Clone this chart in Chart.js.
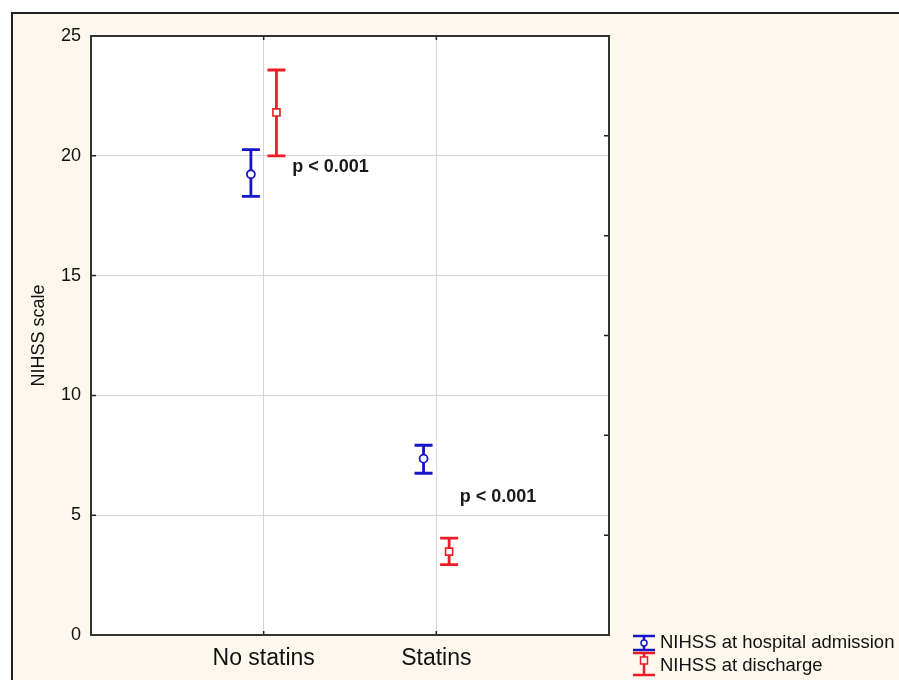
<!DOCTYPE html>
<html>
<head>
<meta charset="utf-8">
<script src="https://cdn.jsdelivr.net/npm/chart.js@4.4.1/dist/chart.umd.min.js"></script>
<style>
  html, body { margin: 0; padding: 0; background: #fff; overflow: hidden; }
  #frame { position: absolute; left: 11px; top: 12px; width: 900px; height: 680px;
           border-left: 2px solid #222; border-top: 2px solid #222; background: #fcf8ee; }
  #c { position: absolute; left: 0; top: 0; }
</style>
</head>
<body>
<div id="frame"></div>
<canvas id="c" width="899" height="680"></canvas>
<script>
// NIHSS score, means with error bars
const groups        = ['No statins', 'Statins'];
const seriesNames   = ['NIHSS at hospital admission', 'NIHSS at discharge'];
const admissionMean = [19.23, 7.36];
const admissionLow  = [18.31, 6.75];
const admissionHigh = [20.26, 7.92];
const dischargeMean = [21.81, 3.48];
const dischargeLow  = [20.0, 2.94];
const dischargeHigh = [23.58, 4.04];
const yTicks        = [0, 5, 10, 15, 20, 25];
const pTexts        = ['p < 0.001', 'p < 0.001'];

const FONT = "Arial, 'Liberation Sans', sans-serif";
const BLUE = '#1616c8';
const RED  = '#ec1c24';
const OFFSET = 0.074;   // horizontal dodge of the two series, in x units

// where the p labels sit (left edge, vertical centre), in data units
const pAnchors = [{ x: 1.166, y: 19.55 }, { x: 2.135, y: 5.75 }];

const errorBars = {
  id: 'errorBars',
  beforeDraw(chart) {
    const { ctx, chartArea: a } = chart;
    ctx.save();
    ctx.fillStyle = '#fff';
    ctx.fillRect(a.left, a.top, a.right - a.left, a.bottom - a.top);
    ctx.restore();
  },
  beforeDatasetsDraw(chart) {
    const { ctx, scales: { x, y } } = chart;
    ctx.save();
    chart.data.datasets.forEach(ds => {
      ctx.strokeStyle = ds.borderColor;
      ctx.lineWidth = 2.8;
      ds.data.forEach((p, i) => {
        const px = x.getPixelForValue(p.x);
        const lo = y.getPixelForValue(ds.low[i]);
        const hi = y.getPixelForValue(ds.high[i]);
        ctx.beginPath();
        ctx.moveTo(px, lo); ctx.lineTo(px, hi);
        ctx.moveTo(px - 9, lo); ctx.lineTo(px + 9, lo);
        ctx.moveTo(px - 9, hi); ctx.lineTo(px + 9, hi);
        ctx.stroke();
      });
    });
    ctx.restore();
  },
  afterDraw(chart) {
    const { ctx, chartArea: a, scales: { x, y, y2 } } = chart;
    ctx.save();

    // inward tick marks
    ctx.strokeStyle = '#222';
    ctx.lineWidth = 1.5;
    ctx.beginPath();
    y.ticks.forEach(t => {
      const py = y.getPixelForValue(t.value);
      ctx.moveTo(a.left, py); ctx.lineTo(a.left + 5, py);
    });
    y2.ticks.forEach(t => {
      if (t.value <= y2.min || t.value >= y2.max) return;
      const py = y2.getPixelForValue(t.value);
      ctx.moveTo(a.right - 5, py); ctx.lineTo(a.right, py);
    });
    x.ticks.forEach(t => {
      const px = x.getPixelForValue(t.value);
      ctx.moveTo(px, a.bottom - 4); ctx.lineTo(px, a.bottom);
      ctx.moveTo(px, a.top); ctx.lineTo(px, a.top + 4);
    });
    ctx.stroke();

    // plot frame
    ctx.strokeStyle = '#333';
    ctx.lineWidth = 2;
    ctx.strokeRect(a.left, a.top, a.right - a.left, a.bottom - a.top);

    // p values
    ctx.fillStyle = '#1a1a1a';
    ctx.font = `bold 18px ${FONT}`;
    ctx.textAlign = 'left';
    ctx.textBaseline = 'middle';
    pTexts.forEach((t, i) => {
      ctx.fillText(t, x.getPixelForValue(pAnchors[i].x), y.getPixelForValue(pAnchors[i].y));
    });

    // legend
    const lx = 644;
    ctx.lineWidth = 2.5;
    ctx.strokeStyle = BLUE;
    ctx.beginPath();
    ctx.moveTo(lx - 11, 636); ctx.lineTo(lx + 11, 636);
    ctx.moveTo(lx, 636); ctx.lineTo(lx, 650);
    ctx.moveTo(lx - 11, 650); ctx.lineTo(lx + 11, 650);
    ctx.stroke();
    ctx.lineWidth = 1.5;
    ctx.fillStyle = '#fff';
    ctx.beginPath(); ctx.arc(lx, 643, 3, 0, Math.PI * 2); ctx.fill(); ctx.stroke();

    ctx.lineWidth = 2.5;
    ctx.strokeStyle = RED;
    ctx.beginPath();
    ctx.moveTo(lx - 11, 653); ctx.lineTo(lx + 11, 653);
    ctx.moveTo(lx, 653); ctx.lineTo(lx, 675);
    ctx.moveTo(lx - 11, 675); ctx.lineTo(lx + 11, 675);
    ctx.stroke();
    ctx.lineWidth = 1.5;
    ctx.fillRect(lx - 3.5, 657, 7, 7); ctx.strokeRect(lx - 3.5, 657, 7, 7);

    ctx.fillStyle = '#111';
    ctx.font = `18.5px ${FONT}`;
    ctx.textBaseline = 'alphabetic';
    ctx.fillText(seriesNames[0], 660, 648);
    ctx.fillText(seriesNames[1], 660, 671);
    ctx.restore();
  }
};

new Chart(document.getElementById('c'), {
  type: 'scatter',
  data: {
    datasets: [
      {
        label: seriesNames[0],
        data: admissionMean.map((v, i) => ({ x: i + 1 - OFFSET, y: v })),
        low: admissionLow, high: admissionHigh,
        borderColor: BLUE, backgroundColor: '#fff',
        pointStyle: 'circle', pointRadius: 4, pointBorderWidth: 1.8,
      },
      {
        label: seriesNames[1],
        data: dischargeMean.map((v, i) => ({ x: i + 1 + OFFSET, y: v })),
        low: dischargeLow, high: dischargeHigh,
        borderColor: RED, backgroundColor: '#fff',
        pointStyle: 'rect', pointRadius: 5, pointBorderWidth: 1.6,
      },
    ],
  },
  options: {
    responsive: false,
    animation: false,
    layout: { padding: { left: 0, top: 36, right: 290, bottom: 0 } },
    plugins: { legend: { display: false }, tooltip: { enabled: false } },
    scales: {
      x: {
        type: 'linear', min: 0, max: 3,
        afterBuildTicks: s => { s.ticks = groups.map((g, i) => ({ value: i + 1 })); },
        ticks: { callback: v => groups[v - 1], font: { size: 23, family: FONT }, color: '#111', padding: 10 },
        grid: { color: '#d6d6d6', drawTicks: false },
        border: { display: false },
        afterFit: s => { s.height = 45; },
      },
      y: {
        min: 0, max: 25,
        afterBuildTicks: s => { s.ticks = yTicks.map(v => ({ value: v })); },
        ticks: { font: { size: 18, family: FONT }, color: '#111', padding: 10 },
        grid: { color: '#d6d6d6', drawTicks: false },
        border: { display: false },
        title: { display: true, text: 'NIHSS scale', font: { size: 18, family: FONT }, color: '#111',
                 padding: { top: 28, bottom: 0 } },
        afterFit: s => { s.width = 91; },
      },
      y2: {
        position: 'right', min: 0, max: 6,
        ticks: { display: false, stepSize: 1 },
        grid: { display: false },
        border: { display: false },
        afterFit: s => { s.width = 0; },
      },
    },
  },
  plugins: [errorBars],
});
</script>
</body>
</html>
